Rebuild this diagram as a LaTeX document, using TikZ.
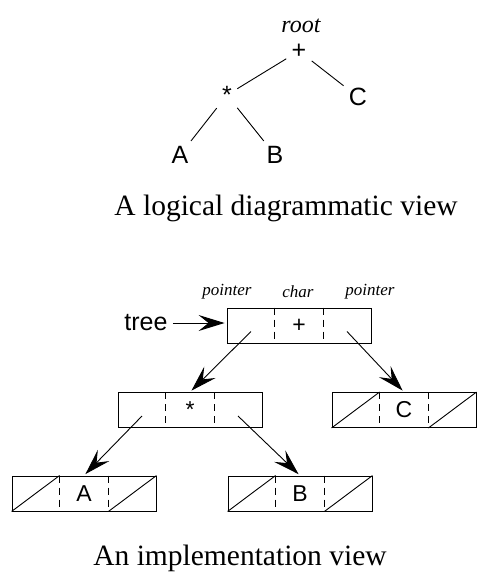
\documentclass[tikz,border=0pt]{standalone}
\usepackage{fontspec}
\setmainfont{Liberation Serif}
\setsansfont{Liberation Sans}
\usetikzlibrary{arrows.meta, positioning}

\begin{document}
\begin{tikzpicture}[x=1pt, y=-1pt, line width=0.9pt,
    leaf/.style={font=\sffamily\fontsize{25}{25}\selectfont, inner sep=5pt},
    tag/.style={font=\itshape\fontsize{17}{17}\selectfont, inner sep=0pt},
    caption/.style={font=\fontsize{29.5}{29.5}\selectfont, inner sep=0pt},
    rec/.style={rectangle, draw, minimum width=144pt, minimum height=35pt, inner sep=0pt, font=\sffamily\fontsize{23}{23}\selectfont},
    divider/.style={dash pattern=on 7pt off 5pt},
    arr/.style={-{Stealth[length=26pt, width=16pt, inset=10pt]}, shorten >=2pt}
]
    \useasboundingbox (0,0) rectangle (477,576);

    % logical view
    \node[tag, font=\itshape\fontsize{24}{24}\selectfont] (rootlbl) at (301,26) {root};
    \node[leaf] (plus) at (299,51) {+};
    \node[leaf] (mul) at (227,95) {*};
    \node[leaf] (c) at (358,97) {C};
    \node[leaf] (a) at (180,155) {A};
    \node[leaf] (b) at (275,155) {B};
    \draw (plus) -- (mul);
    \draw (plus) -- (c);
    \draw (mul) -- (a);
    \draw (mul) -- (b);
    \node[caption] (cap1) at (286,208) {A logical diagrammatic view};

    % implementation view
    \node[tag] (ptrl) at (227,292) {pointer};
    \node[tag] (chr) at (298,292) {char};
    \node[tag] (ptrr) at (370,292) {pointer};
    \node[rec] (toprec) at (299,325.5) {+};
    \node[leaf] (tree) at (146,323) {tree};
    \node[rec] (mulrec) at (190,410) {*};
    \node[rec] (crec) at (404,410) {C};
    \node[rec] (arec) at (84,493.5) {A};
    \node[rec] (brec) at (300,493.5) {B};

    \foreach \r in {toprec, mulrec, crec, arec, brec} {
        \draw[divider] ([xshift=48pt]\r.north west) -- ([xshift=48pt]\r.south west);
        \draw[divider] ([xshift=-48pt]\r.north east) -- ([xshift=-48pt]\r.south east);
    }
    % empty pointers
    \foreach \r in {crec, arec, brec} {
        \draw (\r.south west) -- ([xshift=48pt]\r.north west);
        \draw ([xshift=-48pt]\r.south east) -- (\r.north east);
    }

    \draw[arr] (tree.east) -- (tree.east -| toprec.west);
    \draw[arr] ([shift={(-48pt,-6pt)}]toprec.center) -- (mulrec.north);
    \draw[arr] ([shift={(48pt,-6pt)}]toprec.center) -- (crec.north);
    \draw[arr] ([shift={(-48pt,-6pt)}]mulrec.center) -- (arec.north);
    \draw[arr] ([shift={(48pt,-6pt)}]mulrec.center) -- (brec.north);

    \node[caption] (cap2) at (240,558) {An implementation view};
\end{tikzpicture}
\end{document}
